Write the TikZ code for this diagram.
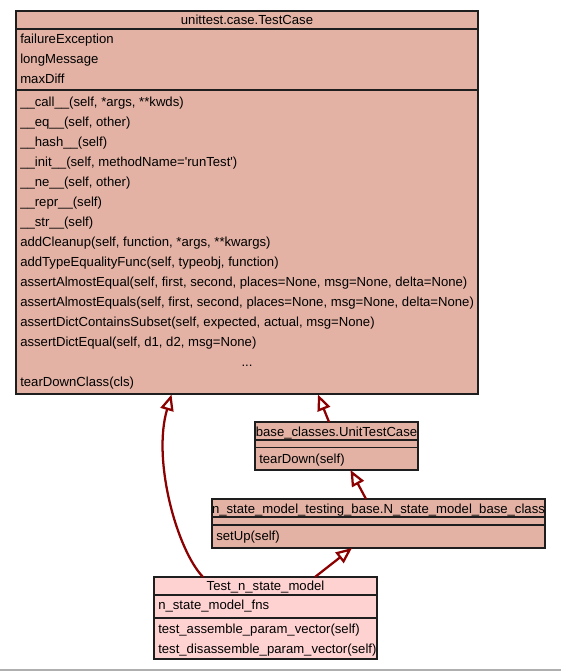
\documentclass[tikz,border=0pt]{standalone}
\usepackage{fontspec}
\setmainfont{Liberation Sans}[Ligatures=TeXOff]
\usetikzlibrary{arrows.meta}
\definecolor{boxfill}{RGB}{227,178,164}
\definecolor{pinkfill}{RGB}{255,210,210}
\definecolor{edgered}{RGB}{139,0,0}
\definecolor{boxline}{RGB}{30,30,30}
\definecolor{bottomgray}{RGB}{175,175,175}
\begin{document}
\begin{tikzpicture}[x=0.75pt,y=-0.75pt,
  classbox/.style={draw=boxline, line width=1pt, anchor=north west, inner sep=0pt, outer sep=0pt},
  sepline/.style={draw=boxline, line width=1pt},
  lbl/.style={anchor=base west, inner sep=0pt, font=\fontsize{9.85pt}{11pt}\selectfont},
  ttl/.style={anchor=base, inner sep=0pt, font=\fontsize{9.85pt}{11pt}\selectfont},
  inherit/.style={draw=edgered, line width=1.7pt, -{Triangle[open, length=12pt, width=10pt, line width=1.7pt]}}
]
\useasboundingbox (0,0) rectangle (561,671);

% ---------- unittest.case.TestCase ----------
\node[classbox, fill=boxfill, minimum width=346.5pt, minimum height=287.25pt] (tc) at (16,11) {};
\draw[sepline] (16,29) -- (478,29);
\draw[sepline] (16,90) -- (478,90);
\node[ttl] (tct) at (247,24) {unittest.case.TestCase};
\node[lbl] (a1) at (20,43.5) {failureException};
\node[lbl] (a2) at (20,63.5) {longMessage};
\node[lbl] (a3) at (20,83.5) {maxDiff};
\node[lbl] (m1) at (20,106.5) {\_\_call\_\_(self, *args, **kwds)};
\node[lbl] (m2) at (20,126.5) {\_\_eq\_\_(self, other)};
\node[lbl] (m3) at (20,146.5) {\_\_hash\_\_(self)};
\node[lbl] (m4) at (20,166.5) {\_\_init\_\_(self, methodName='runTest')};
\node[lbl] (m5) at (20,186.5) {\_\_ne\_\_(self, other)};
\node[lbl] (m6) at (20,206.5) {\_\_repr\_\_(self)};
\node[lbl] (m7) at (20,226.5) {\_\_str\_\_(self)};
\node[lbl] (m8) at (20,246.5) {addCleanup(self, function, *args, **kwargs)};
\node[lbl] (m9) at (20,266.5) {addTypeEqualityFunc(self, typeobj, function)};
\node[lbl] (m10) at (20,286.5) {assertAlmostEqual(self, first, second, places=None, msg=None, delta=None)};
\node[lbl] (m11) at (20,306.5) {assertAlmostEquals(self, first, second, places=None, msg=None, delta=None)};
\node[lbl] (m12) at (20,326.5) {assertDictContainsSubset(self, expected, actual, msg=None)};
\node[lbl] (m13) at (20,346.5) {assertDictEqual(self, d1, d2, msg=None)};
\node[ttl] (m14) at (247,366.5) {...};
\node[lbl] (m15) at (20,386.5) {tearDownClass(cls)};

% ---------- base_classes.UnitTestCase ----------
\node[classbox, fill=boxfill, minimum width=122.25pt, minimum height=36pt] (utc) at (255,422) {};
\draw[sepline] (255,440) -- (418,440);
\draw[sepline] (255,447.5) -- (418,447.5);
\node[ttl] (utct) at (336.5,436.5) {base\_classes.UnitTestCase};
\node[lbl] (utcm) at (259,463.5) {tearDown(self)};

% ---------- N_state_model_base_class ----------
\node[classbox, fill=boxfill, minimum width=249.75pt, minimum height=36.75pt] (nsb) at (212,499) {};
\draw[sepline] (212,517) -- (545,517);
\draw[sepline] (212,525) -- (545,525);
\node[ttl] (nsbt) at (378.5,513.5) {n\_state\_model\_testing\_base.N\_state\_model\_base\_class};
\node[lbl] (nsbm) at (216,540.5) {setUp(self)};

% ---------- Test_n_state_model ----------
\node[classbox, fill=pinkfill, minimum width=167.25pt, minimum height=61.5pt] (tns) at (154,577) {};
\draw[sepline] (154,595) -- (377,595);
\draw[sepline] (154,618) -- (377,618);
\node[ttl] (tnst) at (265.5,590) {Test\_n\_state\_model};
\node[lbl] (tnsa) at (158,609.5) {n\_state\_model\_fns};
\node[lbl] (tnsm1) at (158,633.5) {test\_assemble\_param\_vector(self)};
\node[lbl] (tnsm2) at (158,653.5) {test\_disassemble\_param\_vector(self)};

% ---------- connectors ----------
\coordinate (tcA) at (171.5,394.5);
\coordinate (tcB) at (318,394.5);
\coordinate (utcTop) at (329,422);
\coordinate (utcBot) at (350.5,470);
\coordinate (nsbTop) at (366,499);
\coordinate (nsbBot) at (352,548);
\coordinate (tnsL) at (203,577);
\coordinate (tnsR) at (315,577);

\draw[inherit] (tnsL) .. controls (177,550) and (152,460) .. (tcA);
\draw[inherit] (utcTop) -- (tcB);
\draw[inherit] (nsbTop) -- (utcBot);
\draw[inherit] (tnsR) -- (nsbBot);

% bottom rule
\draw[bottomgray, line width=0.9pt] (0,670) -- (561,670);
\end{tikzpicture}
\end{document}
